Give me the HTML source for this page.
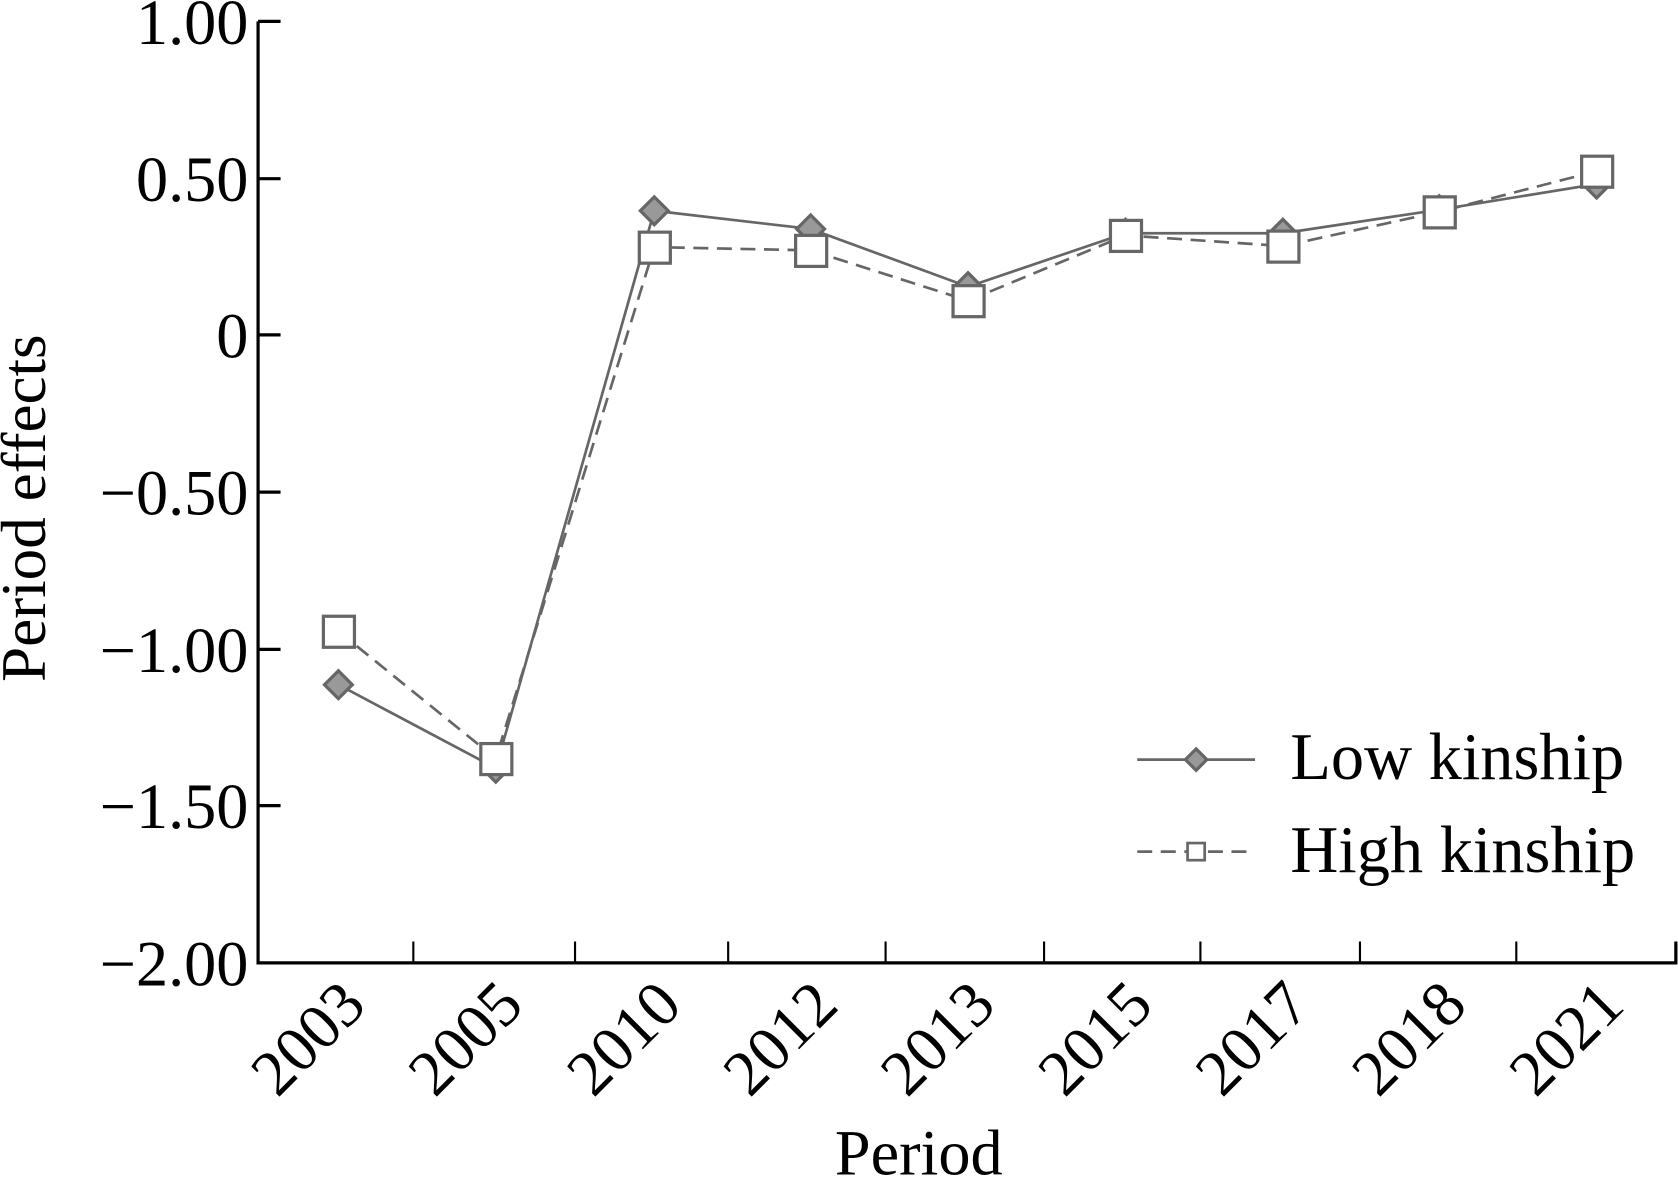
<!DOCTYPE html>
<html><head><style>body{margin:0;background:#fff}svg{display:block}</style></head><body>
<svg width="1678" height="1179" viewBox="0 0 1567 1102" preserveAspectRatio="none" xmlns="http://www.w3.org/2000/svg" font-family="Liberation Serif, serif">
<g stroke="#000" stroke-width="3" fill="none">
<path d="M241,20 V900 H1565 V880"/>
<path d="M241,20 H262 M241,167 H262 M241,313 H262 M241,460 H262 M241,607 H262 M241,753 H262"/>
<path stroke-width="2" d="M386,900 V880 M537,900 V880 M680,900 V880 M827,900 V880 M975,900 V880 M1121,900 V880 M1270,900 V880 M1416,900 V880"/>
</g>
<g font-size="60" text-anchor="end" fill="#000">
<text x="232" y="41">1.00</text><text x="232" y="188">0.50</text><text x="232" y="334">0</text>
<text x="232" y="481">−0.50</text><text x="232" y="628">−1.00</text><text x="232" y="774">−1.50</text><text x="232" y="921">−2.00</text>
</g>
<g font-size="60" text-anchor="end" fill="#000">
<text transform="translate(344,942) rotate(-45)">2003</text>
<text transform="translate(491,942) rotate(-45)">2005</text>
<text transform="translate(639,942) rotate(-45)">2010</text>
<text transform="translate(785,942) rotate(-45)">2012</text>
<text transform="translate(932,942) rotate(-45)">2013</text>
<text transform="translate(1079,942) rotate(-45)">2015</text>
<text transform="translate(1226,942) rotate(-45)">2017</text>
<text transform="translate(1372,942) rotate(-45)">2018</text>
<text transform="translate(1519,942) rotate(-45)">2021</text>
</g>
<text x="858" y="1098" font-size="60" text-anchor="middle">Period</text>
<text transform="translate(42,475) rotate(-90)" font-size="59" text-anchor="middle">Period effects</text>
<polyline fill="none" stroke="#666" stroke-width="2.5" points="316,640 463,718 611,197 757,214 904,268 1051,218 1198,218 1344,196 1491,172"/>
<polyline fill="none" stroke="#666" stroke-width="2.5" stroke-dasharray="14,8" points="316,590 463,709 611,231 757,234 904,281 1051,220 1198,230 1344,198 1491,160"/>
<g fill="#999" stroke="#666" stroke-width="3">
<path d="M316,627 l13,13 l-13,13 l-13,-13z"/><path d="M463,705 l13,13 l-13,13 l-13,-13z"/>
<path d="M611,184 l13,13 l-13,13 l-13,-13z"/><path d="M757,201 l13,13 l-13,13 l-13,-13z"/>
<path d="M904,255 l13,13 l-13,13 l-13,-13z"/><path d="M1051,205 l13,13 l-13,13 l-13,-13z"/>
<path d="M1198,205 l13,13 l-13,13 l-13,-13z"/><path d="M1344,183 l13,13 l-13,13 l-13,-13z"/>
<path d="M1491,159 l13,13 l-13,13 l-13,-13z"/>
</g>
<g fill="#fff" stroke="#666" stroke-width="3">
<rect x="302" y="576" width="29" height="29"/><rect x="449" y="695" width="29" height="29"/>
<rect x="597" y="217" width="29" height="29"/><rect x="743" y="220" width="29" height="29"/>
<rect x="890" y="267" width="29" height="29"/><rect x="1037" y="206" width="29" height="29"/>
<rect x="1184" y="216" width="29" height="29"/><rect x="1330" y="184" width="29" height="29"/>
<rect x="1477" y="146" width="29" height="29"/>
</g>
<line x1="1062" y1="710" x2="1172" y2="710" stroke="#666" stroke-width="2.5"/>
<path d="M1117,700 l10,10 l-10,10 l-10,-10z" fill="#999" stroke="#666" stroke-width="3"/>
<line x1="1062" y1="796" x2="1172" y2="796" stroke="#666" stroke-width="2.5" stroke-dasharray="14,8"/>
<rect x="1109" y="788" width="16" height="16" fill="#fff" stroke="#666" stroke-width="2.5"/>
<text x="1205" y="728" font-size="62">Low kinship</text>
<text x="1205" y="815" font-size="62">High kinship</text>
</svg>
</body></html>
